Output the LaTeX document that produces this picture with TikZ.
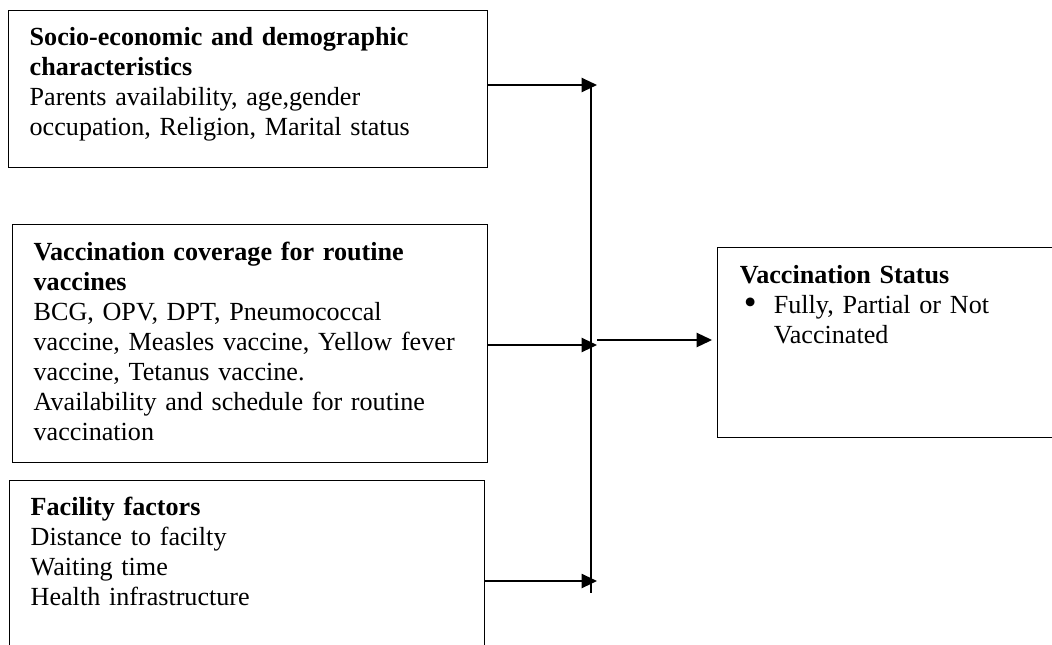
\documentclass[tikz,border=0pt]{standalone}
\usepackage{fontspec}
\setmainfont{Liberation Serif}
\usetikzlibrary{arrows.meta, positioning}

\begin{document}
\begin{tikzpicture}[
    x=0.467pt, y=-0.467pt,
    factorbox/.style={rectangle, draw=black, line width=0.65pt, anchor=north west, inner xsep=9.8pt, inner ysep=0pt, align=left, font=\fontsize{12.2pt}{14pt}\selectfont},
    arrow/.style={-{Triangle[length=7.2pt, width=6.6pt]}, line width=0.9pt}
  ]
  \useasboundingbox (0,0) rectangle (1052,644);
  \node[factorbox, text width=204.1pt, text height=16.3pt, text depth=57pt] (socio) at (8,10) {\textbf{Socio-economic and demographic}\\\textbf{characteristics}\\Parents availability, age,gender\\occupation, Religion, Marital status};
  \node[factorbox, text width=202.2pt, text height=16.8pt, text depth=94.3pt] (coverage) at (12,224) {\textbf{Vaccination coverage for routine}\\\textbf{vaccines}\\BCG, OPV, DPT, Pneumococcal\\vaccine, Measles vaccine, Yellow fever\\vaccine, Tetanus vaccine.\\\makebox[202.2pt][s]{Availability and schedule for routine}\\vaccination};
  \node[factorbox, text width=202.2pt, text height=16.3pt, text depth=67.7pt] (facility) at (9,480) {\textbf{Facility factors}\\Distance to facilty\\Waiting time\\Health infrastructure};
  \node[factorbox, inner xsep=10.3pt, text width=142.9pt, text height=16.8pt, text depth=71.9pt] (status) at (717,247) {\textbf{Vaccination Status}\\\hspace*{1.9pt}\makebox[14pt][l]{\raisebox{-0.6pt}{\scalebox{1.4}{\textbullet}}}Fully, Partial or Not\\\hspace*{15.9pt}Vaccinated};
  \coordinate (bustop) at (591,87);
  \coordinate (busbot) at (591,593);
  \coordinate (in1) at (597,85);
  \coordinate (in2) at (597,345);
  \coordinate (in3) at (597,581);
  \coordinate (out) at (597,340);
  \draw[line width=0.65pt] (bustop) -- (busbot);
  \draw[arrow] (socio.east |- in1) -- (in1);
  \draw[arrow] (coverage.east |- in2) -- (in2);
  \draw[arrow] (facility.east |- in3) -- (in3);
  \draw[arrow, shorten >=2.3pt] (out) -- (status.west |- out);
\end{tikzpicture}
\end{document}
